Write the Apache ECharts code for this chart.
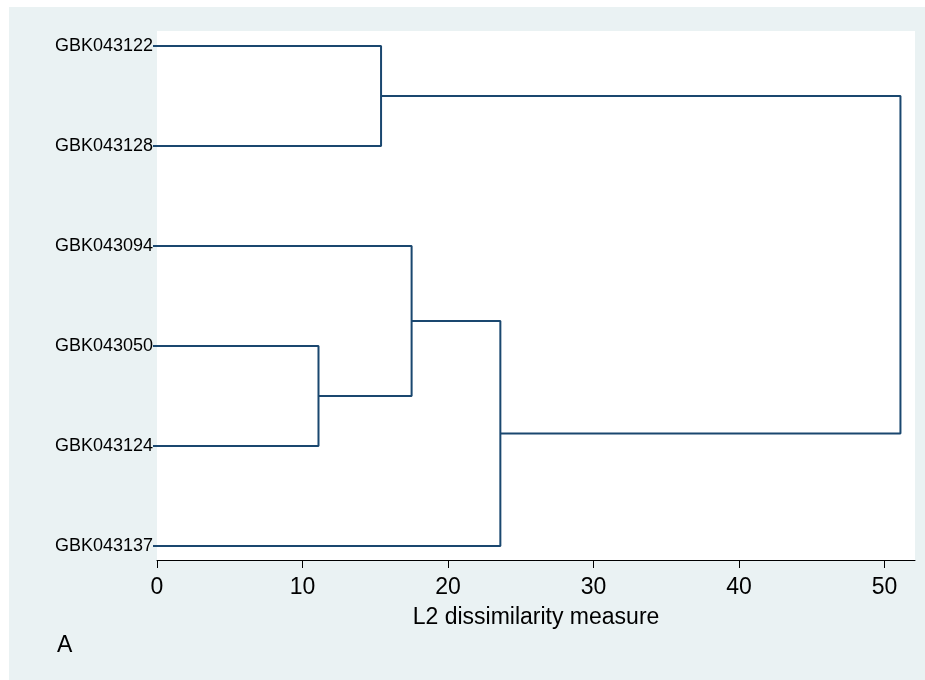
<!DOCTYPE html>
<html>
<head>
<meta charset="utf-8">
<script src="https://cdn.jsdelivr.net/npm/echarts@6/dist/echarts.min.js"></script>
<style>html,body{margin:0;padding:0;background:#fff;}#c{width:925px;height:680px;}</style>
</head>
<body>
<div id="c"></div>
<script>
// Leaves in dendrogram order (top to bottom)
const leafLabels = ['GBK043122','GBK043128','GBK043094','GBK043050','GBK043124','GBK043137'];
// Merges: [left child, right child, dissimilarity]; children are leaf indices or 'mN' for merge N
const mergeLeft   = [0, 3, 2,    'm2', 'm0'];
const mergeRight  = [1, 4, 'm1', 5,    'm3'];
const mergeHeight = [15.4, 11.1, 17.5, 23.6, 51.1];
const xTicks = [0, 10, 20, 30, 40, 50];

const nodePos = {};
leafLabels.forEach((l, i) => { nodePos[i] = [0, i + 1]; });
const series = [];
mergeHeight.forEach((h, k) => {
  const a = nodePos[mergeLeft[k]], b = nodePos[mergeRight[k]];
  series.push({
    type: 'line', symbol: 'none', silent: true, animation: false,
    lineStyle: { color: '#1a476f', width: 2 },
    data: [[a[0], a[1]], [h, a[1]], [h, b[1]], [b[0], b[1]]]
  });
  nodePos['m' + k] = [h, (a[1] + b[1]) / 2];
});

const chart = echarts.init(document.getElementById('c'));
const font = '"Liberation Sans", Arial, sans-serif';
chart.setOption({
  animation: false,
  textStyle: { fontFamily: font },
  graphic: [{
    type: 'rect', z: -10, silent: true,
    shape: { x: 9, y: 7, width: 916, height: 673 },
    style: { fill: '#eaf2f3' }
  }],
  title: {
    text: 'A', left: 52, top: 629,
    textStyle: { fontFamily: font, fontSize: 23, fontWeight: 'normal', color: '#000' }
  },
  grid: {
    left: 157, right: 10, top: 31, bottom: 120,
    show: true, backgroundColor: '#ffffff', borderWidth: 0
  },
  xAxis: {
    type: 'value', min: 0, max: 52.1, interval: 10,
    name: 'L2 dissimilarity measure', nameLocation: 'middle', nameGap: 46,
    nameTextStyle: { fontFamily: font, fontSize: 23, color: '#000' },
    axisLine: { show: true, onZero: false, lineStyle: { color: '#000', width: 1 } },
    axisTick: { show: true, length: 8, lineStyle: { color: '#000' }, customValues: xTicks },
    axisLabel: { fontFamily: font, fontSize: 23, color: '#000', margin: 16, customValues: xTicks },
    splitLine: { show: false }
  },
  yAxis: {
    type: 'value', inverse: true, min: 0.85, max: 6.14,
    axisLine: { show: false },
    axisTick: { show: true, length: 4, customValues: [1,2,3,4,5,6], lineStyle: { color: '#1a476f', width: 2 } },
    axisLabel: {
      fontFamily: font, fontSize: 18, color: '#000', margin: 4,
      customValues: [1,2,3,4,5,6],
      formatter: v => leafLabels[Math.round(v) - 1] || ''
    },
    splitLine: { show: false }
  },
  series: series
});
</script>
</body>
</html>
